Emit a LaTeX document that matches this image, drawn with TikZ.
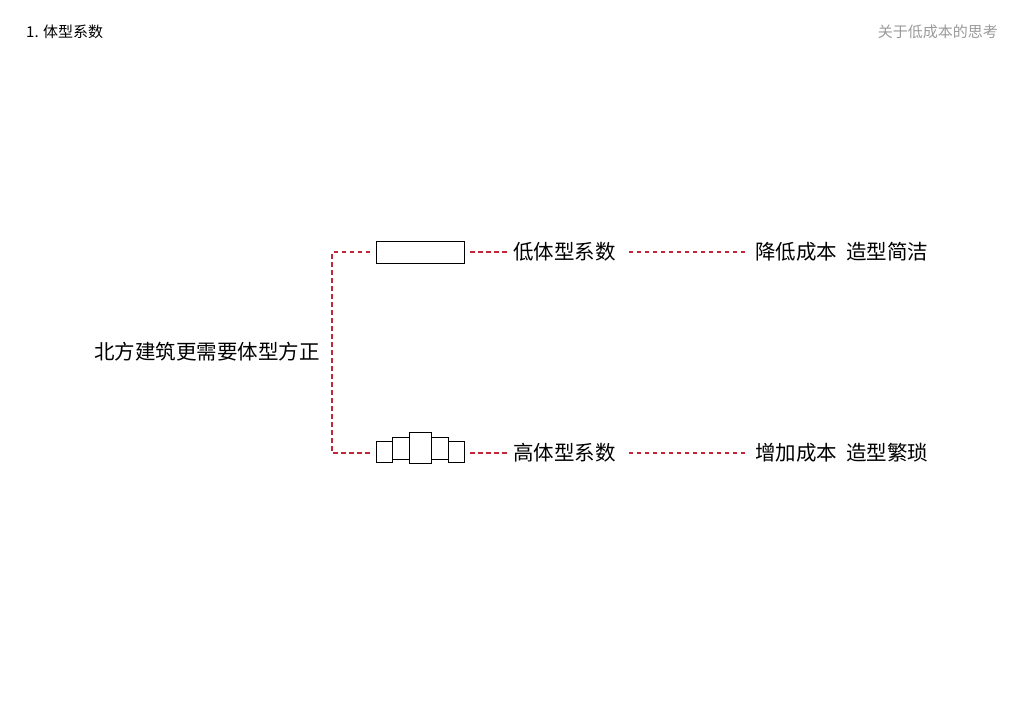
\documentclass[tikz,border=0pt]{standalone}
\usepackage{fontspec}
\newfontfamily\cjk{Noto Sans CJK SC}
\definecolor{dashred}{HTML}{C0283A}
\definecolor{headgray}{HTML}{9A9A9A}
\tikzset{
  link/.style={draw=dashred, line width=1.1pt, dash pattern=on 4.5pt off 3.5pt},
  lbl/.style={font=\cjk\fontsize{20.5}{24}\selectfont, inner sep=0pt, anchor=west},
  blk/.style={draw=black, line width=0.8pt, fill=white},
  hdr/.style={font=\cjk\fontsize{15}{18}\selectfont, inner sep=0pt}
}
\begin{document}
\begin{tikzpicture}[x=1pt,y=-1pt]
\useasboundingbox (0,0) rectangle (1024,724);
% headers
\node[hdr, anchor=west] (h1) at (26,32) {1.\hspace{0.3em}体型系数};
\node[hdr, anchor=east, text=headgray] (h2) at (998,32) {关于低成本的思考};
% root
\node[lbl, anchor=east] (root) at (320,352) {北方建筑更需要体型方正};
\coordinate (jt) at (332,252);
\coordinate (jb) at (332,453);
% top branch
\draw[blk] (376,241) rectangle (464,263);
\coordinate (boxT) at (464,252);
\coordinate (boxTw) at (370,252);
\node[lbl] (t1) at (513,252) {低体型系数};
\node[lbl] (t2) at (755,252) {降低成本\hspace{0.45em}造型简洁};
% bottom branch
\draw[blk] (376.7,441) rectangle (392.7,462.7);
\draw[blk] (392.7,437) rectangle (409.7,459.7);
\draw[blk] (409.7,432.3) rectangle (431.7,463.3);
\draw[blk] (431.7,437) rectangle (448.3,459.7);
\draw[blk] (448.3,441) rectangle (464,462.7);
\coordinate (boxB) at (464,453);
\coordinate (boxBw) at (370,453);
\node[lbl] (b1) at (513,453) {高体型系数};
\node[lbl] (b2) at (755,453) {增加成本\hspace{0.45em}造型繁琐};
% connectors
\draw[link] (boxTw) -- (jt) -- (jb) -- (boxBw);
\draw[link] ([xshift=6pt]boxT) -- ([xshift=-6pt]t1.west);
\draw[link] ([xshift=6pt]boxB) -- ([xshift=-6pt]b1.west);
\draw[link] ([xshift=13pt]t1.east) -- ([xshift=-10pt]t2.west);
\draw[link] ([xshift=13pt]b1.east) -- ([xshift=-10pt]b2.west);
\end{tikzpicture}
\end{document}
